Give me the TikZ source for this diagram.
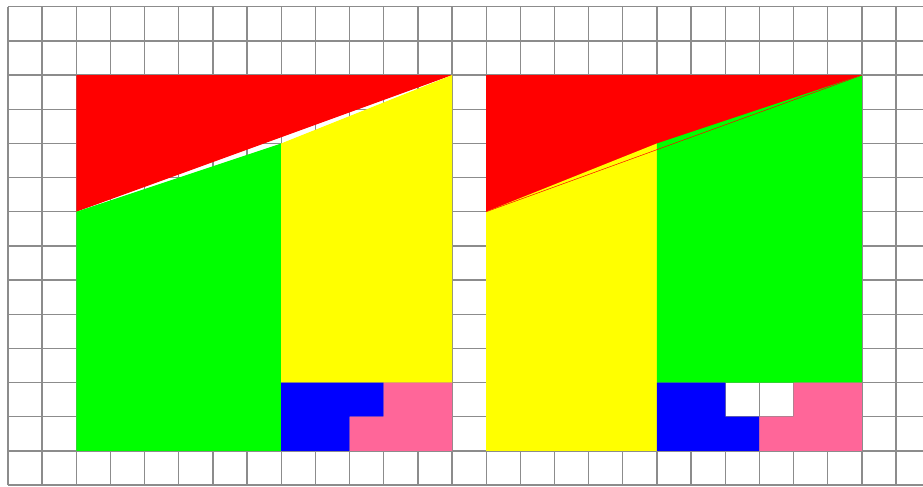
\documentclass[tikz,border=0pt]{standalone}
\usepackage{tikz}
\definecolor{pinkpiece}{RGB}{255,102,153}
\definecolor{yellowpiece}{RGB}{255,255,0}
\definecolor{greenpiece}{RGB}{0,255,0}
\definecolor{gridgray}{RGB}{140,140,140}

\begin{document}
\begin{tikzpicture}[x=1cm,y=1cm,gridline/.style={draw=gridgray,line width=1.1pt},edge/.style={draw=red,line width=0.4pt}]
	
	\clip (-0.234,-0.03) rectangle (26.79,14.2);
	\fill[white] (-0.234,-0.03) rectangle (26.79,14.2);
	\draw[gridline] (0,0) grid (27,14);
	
	% left figure
	\fill[red] (2,12) -- (13,12) -- (2,8) -- cycle;
	\fill[greenpiece] (2,1) -- (8,1) -- (8,10) -- (2,8) -- cycle;
	\fill[yellowpiece] (8,3) -- (13,3) -- (13,12) -- (8,10) -- cycle;
	\fill[blue] (8,1) -- (10,1) -- (10,2) -- (11,2) -- (11,3) -- (8,3) -- cycle;
	\fill[pinkpiece] (10,1) -- (13,1) -- (13,3) -- (11,3) -- (11,2) -- (10,2) -- cycle;
	
	% right figure
	\fill[red] (14,12) -- (25,12) -- (14,8) -- cycle;
	\fill[yellowpiece] (14,1) -- (19,1) -- (19,10) -- (14,8) -- cycle;
	\fill[greenpiece] (19,3) -- (25,3) -- (25,12) -- (19,10) -- cycle;
	\fill[blue] (19,1) -- (22,1) -- (22,2) -- (21,2) -- (21,3) -- (19,3) -- cycle;
	\fill[pinkpiece] (22,1) -- (25,1) -- (25,3) -- (23,3) -- (23,2) -- (22,2) -- cycle;
	\draw[edge] (14,8) -- (25,12);
	
\end{tikzpicture}
\end{document}
